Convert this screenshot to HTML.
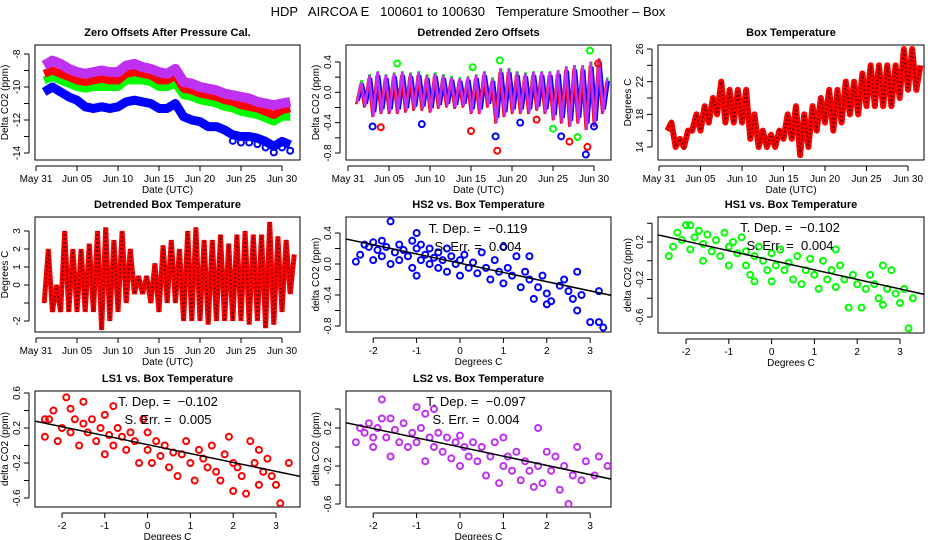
<!DOCTYPE html>
<html><head><meta charset="utf-8"><style>
body{margin:0;background:#fff}
svg{display:block;font-family:"Liberation Sans",sans-serif}
text{white-space:pre}
</style></head><body>
<svg id="chart" width="936" height="540" xmlns="http://www.w3.org/2000/svg">
<rect width="936" height="540" fill="#fff"/>
<text x="468" y="16" text-anchor="middle" font-size="13">HDP   AIRCOA E   100601 to 100630   Temperature Smoother – Box</text>
</svg>
<script>
// ---- data ----
const days = [1,2,3,4,5,6,7,8,9,10,11,12,13,14,15,16,17,18,19,20,21,22,23,24,25,26,27,28,29,30,31];
const zeroBlue   = [-10.3,-10.0,-10.3,-10.6,-10.8,-11.2,-11.3,-11.2,-11.3,-11.2,-10.9,-10.8,-10.9,-11.0,-11.3,-11.3,-11.0,-11.8,-12.0,-12.1,-12.4,-12.4,-12.6,-12.9,-13.0,-13.0,-13.1,-13.3,-13.6,-13.3,-13.5];
const zeroGreen  = [-9.6,-9.4,-9.6,-9.8,-10.0,-10.1,-10.0,-10.0,-10.0,-10.0,-9.6,-9.6,-9.6,-9.7,-10.0,-10.0,-9.8,-10.5,-10.6,-10.8,-10.9,-11.0,-11.2,-11.3,-11.5,-11.6,-11.7,-11.9,-12.1,-11.8,-11.8];
const zeroRed    = [-9.2,-9.0,-9.2,-9.4,-9.6,-9.7,-9.6,-9.5,-9.6,-9.6,-9.2,-9.1,-9.2,-9.3,-9.6,-9.6,-9.3,-10.1,-10.2,-10.4,-10.5,-10.6,-10.8,-10.9,-11.1,-11.2,-11.3,-11.5,-11.7,-11.4,-11.3];
const zeroPurple = [-8.7,-8.4,-8.6,-8.9,-9.1,-9.2,-9.1,-9.0,-9.1,-9.1,-8.7,-8.6,-8.8,-8.9,-9.1,-9.2,-8.9,-9.7,-9.8,-10.0,-10.1,-10.2,-10.4,-10.5,-10.6,-10.7,-10.9,-11.0,-11.1,-11.0,-10.9];
const detHi = [0.15,0.25,0.3,0.25,0.28,0.3,0.28,0.3,0.25,0.28,0.25,0.22,0.2,0.22,0.25,0.3,0.2,0.35,0.35,0.3,0.28,0.3,0.3,0.3,0.32,0.38,0.4,0.4,0.45,0.5,0.2];
const detLo = [-0.15,-0.2,-0.35,-0.3,-0.3,-0.3,-0.28,-0.25,-0.25,-0.28,-0.22,-0.2,-0.22,-0.2,-0.3,-0.3,-0.2,-0.45,-0.35,-0.3,-0.3,-0.3,-0.25,-0.3,-0.4,-0.45,-0.5,-0.45,-0.55,-0.5,-0.3];
const outDay = [3,4,6,9,15,15.2,18,18.2,18.5,21,23,25,26,27,28,29,29.2,29.5,30,30.5];
const outVal = [-0.45,-0.46,0.38,-0.42,-0.51,0.33,-0.58,-0.77,0.42,-0.4,-0.36,-0.48,-0.58,-0.65,-0.59,-0.82,-0.72,0.55,-0.45,0.38];
const tMin = [16,14,14,16,16,17,18,17,17,17,15,14,14,14,15,15,13,14,16,17,16,17,18,18,19,19,19,19,20,21,21];
const tMax = [17,15,16,18,19,20,22,21,21,21,18,16,15.5,16,18,19,18,19,20,21,21,22,22,23,24,24,24,24,26,26,24];
const dMin = [-1,-1.5,-1.5,-1.5,-1.5,-1.5,-1.5,-2.5,-2,-1.5,-1,-0.5,-0.5,-1,-1.5,-1,-1,-2,-2,-2,-2.2,-2,-2,-2,-2,-2.2,-2,-2.4,-2.2,-1.5,-0.5];
const dMax = [2,0,3,2,2,2.3,3,3.2,2.5,3,2,0.5,0.5,1.2,2.2,2.5,2,3,3.2,2.5,2.5,2.8,2.3,2.8,3,2.8,2.8,3.5,2.7,2.5,1.7];
const hs2T = [-2.4,-2.3,-2.2,-2.1,-2.0,-2.0,-1.9,-1.8,-1.8,-1.7,-1.6,-1.6,-1.5,-1.4,-1.4,-1.3,-1.2,-1.1,-1.1,-1.0,-1.0,-1.0,-0.9,-0.9,-0.8,-0.7,-0.7,-0.6,-0.5,-0.5,-0.4,-0.3,-0.3,-0.2,-0.1,0,0,0.1,0.2,0.3,0.4,0.5,0.6,0.7,0.8,0.9,1.0,1.0,1.1,1.2,1.3,1.4,1.5,1.6,1.6,1.7,1.8,1.9,2.0,2.0,2.1,2.3,2.4,2.5,2.6,2.7,2.7,2.8,3.0,3.2,3.2,3.3];
const hs2V = [0.03,0.12,0.25,0.22,0.28,0.05,0.18,0.30,0.1,0.22,0.55,0.0,0.15,0.25,0.05,0.18,0.1,0.3,-0.05,0.4,0.2,-0.15,0.05,0.25,0.12,0.0,0.2,0.08,-0.05,0.15,0.05,0.2,-0.1,0.1,0.0,0.05,-0.15,0.12,-0.05,0.02,-0.12,0.15,-0.05,-0.2,0.05,-0.1,0.22,-0.25,-0.05,-0.15,0.1,-0.3,-0.1,-0.2,0.1,-0.45,-0.3,-0.15,-0.38,-0.52,-0.48,-0.28,-0.2,-0.35,-0.45,-0.1,-0.6,-0.4,-0.75,-0.35,-0.75,-0.82];
const hs1T = [-2.4,-2.3,-2.2,-2.1,-2.0,-1.9,-1.9,-1.8,-1.7,-1.6,-1.6,-1.5,-1.4,-1.3,-1.2,-1.1,-1.0,-1.0,-0.9,-0.8,-0.7,-0.6,-0.6,-0.5,-0.4,-0.4,-0.3,-0.2,-0.1,0,0,0.1,0.2,0.3,0.4,0.5,0.6,0.7,0.8,0.9,1.0,1.1,1.2,1.3,1.4,1.5,1.5,1.6,1.7,1.8,1.9,2.0,2.1,2.2,2.3,2.4,2.5,2.6,2.6,2.7,2.8,2.9,3.0,3.1,3.2,3.3];
const hs1V = [0.05,0.15,0.3,0.22,0.38,0.38,0.12,0.25,0.32,0.18,0.0,0.28,0.1,0.22,0.05,0.3,0.15,-0.05,0.2,0.08,0.25,-0.05,0.1,-0.15,0.05,-0.22,0.15,0.0,-0.1,0.08,-0.22,-0.05,0.12,-0.1,-0.02,-0.2,0.05,-0.25,-0.1,0.02,-0.15,-0.3,0.0,-0.2,-0.1,0.12,-0.28,-0.05,-0.2,-0.5,-0.15,-0.25,-0.5,-0.3,-0.15,-0.25,-0.4,-0.05,-0.47,-0.3,-0.1,-0.35,-0.45,-0.3,-0.72,-0.4];
const ls1T = [-2.4,-2.4,-2.3,-2.2,-2.1,-2.0,-1.9,-1.8,-1.8,-1.7,-1.6,-1.5,-1.5,-1.4,-1.3,-1.2,-1.1,-1.0,-1.0,-0.9,-0.8,-0.8,-0.7,-0.6,-0.5,-0.4,-0.3,-0.2,-0.1,0,0,0.1,0.2,0.3,0.4,0.5,0.6,0.7,0.8,0.9,1.0,1.1,1.2,1.3,1.4,1.5,1.6,1.7,1.8,1.9,2.0,2.0,2.1,2.2,2.3,2.4,2.5,2.6,2.6,2.7,2.8,2.9,3.0,3.1,3.3];
const ls1V = [0.1,0.3,0.3,0.4,0.05,0.2,0.55,0.42,0.15,0.3,0.0,0.25,0.5,0.15,0.3,0.05,0.2,0.35,-0.1,0.12,0.45,0.0,0.2,0.1,-0.05,0.15,0.05,-0.2,0.3,-0.05,0.15,-0.2,0.05,-0.12,0.0,-0.25,-0.08,-0.35,-0.1,0.05,-0.2,-0.4,-0.05,-0.15,-0.25,0.0,-0.3,-0.4,-0.1,0.1,-0.2,-0.52,-0.25,-0.35,-0.55,0.05,-0.2,-0.45,-0.05,-0.3,-0.15,-0.35,-0.45,-0.66,-0.2];
const ls2T = [-2.4,-2.3,-2.2,-2.1,-2.0,-2.0,-1.9,-1.8,-1.8,-1.7,-1.6,-1.6,-1.5,-1.4,-1.3,-1.2,-1.1,-1.0,-1.0,-0.9,-0.8,-0.8,-0.7,-0.6,-0.6,-0.5,-0.4,-0.3,-0.2,-0.1,0,0,0.1,0.2,0.3,0.4,0.5,0.6,0.7,0.8,0.9,1.0,1.0,1.1,1.2,1.3,1.4,1.5,1.6,1.7,1.8,1.8,1.9,2.0,2.1,2.2,2.3,2.4,2.5,2.6,2.7,2.8,2.9,3.1,3.2,3.4];
const ls2V = [0.05,0.2,0.15,0.25,0.1,0.0,0.2,0.5,0.3,0.1,0.3,-0.1,0.18,0.05,0.25,0.0,0.15,0.42,0.05,0.2,-0.15,0.35,0.1,0.4,0.0,0.15,-0.05,0.1,-0.12,0.05,-0.2,0.12,0.0,-0.1,0.05,-0.15,0.0,-0.3,-0.1,0.05,-0.38,-0.2,0.1,-0.1,-0.25,-0.05,-0.35,-0.15,-0.25,-0.42,0.2,-0.2,-0.38,-0.05,-0.25,-0.1,-0.45,-0.2,-0.6,-0.3,0.0,-0.35,-0.15,-0.3,-0.1,-0.2];
const slopes = [-0.119,-0.102,-0.102,-0.097];
const intercepts = [0.01,0.005,0.01,0.0];
const sErrs = ["0.004","0.004","0.005","0.004"];
const dateLabels = ["May 31","Jun 05","Jun 10","Jun 15","Jun 20","Jun 25","Jun 30"];

// ---- drawing ----
const svg = document.getElementById('chart');
const NS = 'http://www.w3.org/2000/svg';
function mk(tag, attrs, parent){const e=document.createElementNS(NS,tag);for(const k in attrs)e.setAttribute(k,attrs[k]);(parent||svg).appendChild(e);return e;}
function txt(s,x,y,attrs,parent){const e=mk('text',Object.assign({x:x,y:y},attrs||{}),parent);e.textContent=s;return e;}
function lin(a,b,p,q){return v=>p+(v-a)*(q-p)/(b-a);}

function panel(name,box,title,xs,ys,xTicks,xLabels,xTitle,yTicks,yLabels,yTitle){
  const g=mk('g',{});
  
  
  const [L,T,R,B]=box;
  const t=txt(title,(L+R)/2,T-9,{'text-anchor':'middle','font-size':'11','font-weight':'bold'},g);
  
  
  const fr=mk('rect',{x:L,y:T,width:R-L,height:B-T,fill:'none',stroke:'#000','stroke-width':1},g);
  
  
  const xa=mk('g',{},g);
  
  
  mk('line',{x1:xs(xTicks[0]),x2:xs(xTicks[xTicks.length-1]),y1:B+6,y2:B+6,stroke:'#000'},xa);
  xTicks.forEach((v,i)=>{mk('line',{x1:xs(v),x2:xs(v),y1:B+6,y2:B+11,stroke:'#000'},xa);
    if(xLabels[i]!=='')txt(xLabels[i],xs(v),B+22,{'text-anchor':'middle','font-size':'10'},xa);});
  txt(xTitle,(L+R)/2,B+33,{'text-anchor':'middle','font-size':'10'},xa);
  const ya=mk('g',{},g);
  
  
  mk('line',{x1:L-6,x2:L-6,y1:ys(yTicks[0]),y2:ys(yTicks[yTicks.length-1]),stroke:'#000'},ya);
  yTicks.forEach((v,i)=>{const y=ys(v);mk('line',{x1:L-11,x2:L-6,y1:y,y2:y,stroke:'#000'},ya);
    if(yLabels[i]!=='')txt(yLabels[i],L-15,y,{'text-anchor':'middle','font-size':'10',transform:`rotate(-90 ${L-15} ${y})`},ya);});
  txt(yTitle,L-27,(T+B)/2,{'text-anchor':'middle','font-size':'10',transform:`rotate(-90 ${L-27} ${(T+B)/2})`},ya);
  const clip='c'+name;
  const cp=mk('clipPath',{id:clip},g);mk('rect',{x:L,y:T,width:R-L,height:B-T},cp);
  const plot=mk('g',{'clip-path':`url(#${clip})`},g);
  return plot;
}
const dTicks=[0,5,10,15,20,25,30];

// Panel 1
{
  const xs=lin(0,30,36,282), ys=lin(-8,-14,54,153);
  const p=panel('zero-offsets-panel',[35,45,300,160],'Zero Offsets After Pressure Cal.',xs,ys,dTicks,dateLabels,'Date (UTC)',[-8,-9,-10,-11,-12,-13,-14],['-8','','-10','','-12','','-14'],'Delta CO2 (ppm)');
  const series=[[zeroBlue,'#0000ff','blue',9],[zeroGreen,'#00ff00','green',8],[zeroRed,'#ff0000','red',8],[zeroPurple,'#c030f0','purple',10]];
  series.forEach(([vals,c,n,w])=>{
    const pts=days.map((d,i)=>`${xs(d)},${ys(vals[i])}`).join(' ');
    const l=mk('polyline',{points:pts,fill:'none',stroke:c,'stroke-width':w,'stroke-linejoin':'round'},p);
    
    
  });
  days.forEach((d,i)=>{if(d>=24){const e=mk('circle',{cx:xs(d),cy:ys(zeroBlue[i])+6,r:3,fill:'none',stroke:'#0000ff','stroke-width':2},p);
    
    }});
}
// Panel 2
{
  const xs=lin(0,30,348,594), ys=lin(0.4,-0.8,62,153);
  const p=panel('detrended-zero-panel',[346,45,611,160],'Detrended Zero Offsets',xs,ys,dTicks,dateLabels,'Date (UTC)',[0.4,0.2,0,-0.2,-0.4,-0.6,-0.8],['0.4','','0.0','','-0.4','','-0.8'],'Delta CO2 (ppm)');
  const cols=[['#00ff00',0.04,0.15,0.8],['#0000ff',0.0,0.3,0.75],['#ff0000',-0.03,0.0,0.85],['#c030f0',0,0.1,0.9]];
  cols.forEach(([c,off,ph,sc])=>{
    const pts=[];days.forEach((d,i)=>{pts.push(`${xs(d+ph)},${ys(detLo[i]*sc+off)}`);pts.push(`${xs(d+ph+0.5)},${ys(detHi[i]*sc+off)}`);});
    const l=mk('polyline',{points:pts.join(' '),fill:'none',stroke:c,'stroke-width':2.5},p);
    
    
  });
  const oc=['#0000ff','#ff0000','#00ff00'];
  outDay.forEach((d,i)=>{const e=mk('circle',{cx:xs(d),cy:ys(outVal[i]),r:3,fill:'none',stroke:oc[i%3],'stroke-width':2},p);
    
    });
}
// Panel 3
{
  const xs=lin(0,30,659,908), ys=lin(26,14,49,147);
  const p=panel('box-temperature-panel',[658,45,924,160],'Box Temperature',xs,ys,dTicks,dateLabels,'Date (UTC)',[14,16,18,20,22,24,26],['14','','18','','22','','26'],'Degrees C');
  const pts=[];days.forEach((d,i)=>{pts.push(`${xs(d)},${ys(tMin[i])}`);pts.push(`${xs(d+0.5)},${ys(tMax[i])}`);});
  const l=mk('polyline',{points:pts.join(' '),fill:'none',stroke:'#ff0000','stroke-width':6,'stroke-linejoin':'round'},p);
  
  
  const l2=mk('polyline',{points:pts.join(' '),fill:'none',stroke:'#600','stroke-width':2,'stroke-dasharray':'1.5 2.5'},p);
  
  
}
// Panel 4
{
  const xs=lin(0,30,36,282), ys=lin(3,-2,231,321);
  const p=panel('detrended-temp-panel',[35,217,300,332],'Detrended Box Temperature',xs,ys,dTicks,dateLabels,'Date (UTC)',[-2,-1,0,1,2,3],['-2','','0','1','2','3'],'Degrees C');
  const pts=[];days.forEach((d,i)=>{pts.push(`${xs(d)},${ys(dMin[i])}`);pts.push(`${xs(d+0.5)},${ys(dMax[i])}`);});
  const l=mk('polyline',{points:pts.join(' '),fill:'none',stroke:'#ff0000','stroke-width':5},p);
  
  
  const l2=mk('polyline',{points:pts.join(' '),fill:'none',stroke:'#600','stroke-width':1.8,'stroke-dasharray':'1.5 2.5'},p);
  
  
}
// Scatter panels
function scatter(name,box,title,x0,xScale,yA,yB,yAp,yBp,yTicks,yLabels,T,V,color,k,txtX,txtY){
  const xs=v=>x0+v*xScale, ys=lin(yA,yB,yAp,yBp);
  const p=panel(name,box,title,xs,ys,[-2,-1,0,1,2,3],['-2','-1','0','1','2','3'],'Degrees C',yTicks,yLabels,'delta CO2 (ppm)');
  T.forEach((t,i)=>{const e=mk('circle',{cx:xs(t),cy:ys(V[i]),r:3,fill:'none',stroke:color,'stroke-width':2},p);
    
    });
  const xa=-3,xb=4;
  const fl=mk('line',{x1:xs(xa),y1:ys(intercepts[k]+slopes[k]*xa),x2:xs(xb),y2:ys(intercepts[k]+slopes[k]*xb),stroke:'#000','stroke-width':1.5},p);
  
  
  const a=txt('T. Dep. =  '+String(slopes[k]).replace('-','−'),txtX,txtY,{'text-anchor':'middle','font-size':'13'},p);
  
  
  const b=txt('S. Err. =  '+sErrs[k],txtX,txtY+18,{'text-anchor':'middle','font-size':'13'},p);
  
  
}
scatter('hs2-panel',[346,217,611,332],'HS2 vs. Box Temperature',460,43.4,0.4,-0.8,233,326,[0.4,0.2,0,-0.2,-0.4,-0.6,-0.8],['0.4','','0.0','','-0.4','','-0.8'],hs2T,hs2V,'#0000ff',0,478,233);
scatter('hs1-panel',[658,217,924,333],'HS1 vs. Box Temperature',771.6,42.8,0.2,-0.6,242,317,[0.4,0.2,0,-0.2,-0.4,-0.6],['','0.2','','-0.2','','-0.6'],hs1T,hs1V,'#00ff00',1,790,232);
scatter('ls1-panel',[35,391,300,507],'LS1 vs. Box Temperature',147.6,42.8,0.6,-0.6,393,498,[0.6,0.4,0.2,0,-0.2,-0.4,-0.6],['0.6','','0.2','','-0.2','','-0.6'],ls1T,ls1V,'#ff0000',2,168,406);
scatter('ls2-panel',[346,391,611,507],'LS2 vs. Box Temperature',460,43.4,0.2,-0.2,428,466,[0.4,0.2,0,-0.2,-0.4,-0.6],['','0.2','','-0.2','','-0.6'],ls2T,ls2V,'#c030f0',3,476,406);
</script>
</body></html>
